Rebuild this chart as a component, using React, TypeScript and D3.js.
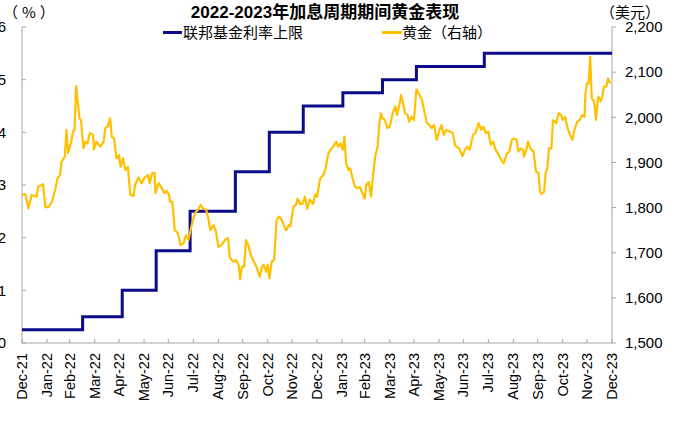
import React from "react";
import * as d3 from "d3";

const W = 700;
const H = 436;

const fedDates = [
  "2021-12-31", "2022-03-16", "2022-05-04", "2022-06-15", "2022-07-27", "2022-09-21",
  "2022-11-02", "2022-12-14", "2023-02-01", "2023-03-22", "2023-05-03", "2023-07-26", "2023-12-31",
];
const fedValues = [0.25, 0.5, 1.0, 1.75, 2.5, 3.25, 4.0, 4.5, 4.75, 5.0, 5.25, 5.5, 5.5];

const goldDates = [
  "2021-12-31", "2022-01-04", "2022-01-08", "2022-01-12", "2022-01-18", "2022-01-20", "2022-01-26", "2022-01-29",
  "2022-02-02", "2022-02-06", "2022-02-10", "2022-02-13", "2022-02-16", "2022-02-18", "2022-02-22", "2022-02-24",
  "2022-02-26", "2022-03-02", "2022-03-04", "2022-03-06", "2022-03-08", "2022-03-12", "2022-03-14", "2022-03-17",
  "2022-03-19", "2022-03-22", "2022-03-25", "2022-03-29", "2022-03-30", "2022-04-02", "2022-04-07", "2022-04-11",
  "2022-04-13", "2022-04-16", "2022-04-19", "2022-04-21", "2022-04-24", "2022-04-27", "2022-04-30", "2022-05-02",
  "2022-05-05", "2022-05-08", "2022-05-11", "2022-05-14", "2022-05-18", "2022-05-20", "2022-05-24", "2022-05-28",
  "2022-06-01", "2022-06-05", "2022-06-07", "2022-06-10", "2022-06-13", "2022-06-14", "2022-06-18", "2022-06-22",
  "2022-06-25", "2022-06-28", "2022-07-01", "2022-07-02", "2022-07-05", "2022-07-08", "2022-07-12", "2022-07-15",
  "2022-07-19", "2022-07-22", "2022-07-25", "2022-07-28", "2022-07-31", "2022-08-03", "2022-08-06", "2022-08-09",
  "2022-08-12", "2022-08-16", "2022-08-19", "2022-08-21", "2022-08-25", "2022-08-28", "2022-08-31", "2022-09-04",
  "2022-09-08", "2022-09-12", "2022-09-14", "2022-09-18", "2022-09-22", "2022-09-25", "2022-09-27", "2022-09-29",
  "2022-10-02", "2022-10-04", "2022-10-07", "2022-10-10", "2022-10-13", "2022-10-17", "2022-10-21", "2022-10-24",
  "2022-10-26", "2022-10-29", "2022-10-31", "2022-11-02", "2022-11-05", "2022-11-08", "2022-11-11", "2022-11-14",
  "2022-11-17", "2022-11-20", "2022-11-23", "2022-11-26", "2022-11-28", "2022-12-02", "2022-12-05", "2022-12-07",
  "2022-12-10", "2022-12-13", "2022-12-16", "2022-12-19", "2022-12-22", "2022-12-26", "2022-12-29", "2022-12-31",
  "2023-01-04", "2023-01-08", "2023-01-11", "2023-01-14", "2023-01-17", "2023-01-20", "2023-01-24", "2023-01-26",
  "2023-01-29", "2023-02-01", "2023-02-03", "2023-02-05", "2023-02-08", "2023-02-10", "2023-02-13", "2023-02-16",
  "2023-02-19", "2023-02-22", "2023-02-26", "2023-02-28", "2023-03-02", "2023-03-05", "2023-03-08", "2023-03-10",
  "2023-03-13", "2023-03-16", "2023-03-18", "2023-03-20", "2023-03-22", "2023-03-25", "2023-03-28", "2023-03-31",
  "2023-04-04", "2023-04-07", "2023-04-09", "2023-04-12", "2023-04-14", "2023-04-16", "2023-04-19", "2023-04-22",
  "2023-04-24", "2023-04-27", "2023-04-30", "2023-05-03", "2023-05-07", "2023-05-10", "2023-05-12", "2023-05-16",
  "2023-05-19", "2023-05-22", "2023-05-25", "2023-05-28", "2023-05-31", "2023-06-03", "2023-06-06", "2023-06-09",
  "2023-06-14", "2023-06-17", "2023-06-20", "2023-06-25", "2023-06-29", "2023-07-02", "2023-07-05", "2023-07-08",
  "2023-07-12", "2023-07-15", "2023-07-19", "2023-07-22", "2023-07-25", "2023-07-28", "2023-07-31", "2023-08-03",
  "2023-08-06", "2023-08-09", "2023-08-12", "2023-08-17", "2023-08-19", "2023-08-23", "2023-08-26", "2023-08-29",
  "2023-09-01", "2023-09-04", "2023-09-06", "2023-09-09", "2023-09-12", "2023-09-13", "2023-09-16", "2023-09-18",
  "2023-09-21", "2023-09-25", "2023-09-28", "2023-10-01", "2023-10-03", "2023-10-05", "2023-10-08", "2023-10-10",
  "2023-10-12", "2023-10-14", "2023-10-17", "2023-10-19", "2023-10-23", "2023-10-26", "2023-10-29", "2023-10-31",
  "2023-11-03", "2023-11-06", "2023-11-09", "2023-11-12", "2023-11-15", "2023-11-18", "2023-11-21", "2023-11-24",
  "2023-11-27", "2023-11-28", "2023-11-30", "2023-12-02", "2023-12-04", "2023-12-06", "2023-12-09", "2023-12-11",
  "2023-12-14", "2023-12-17", "2023-12-19", "2023-12-21", "2023-12-24", "2023-12-26", "2023-12-29",
];
const goldValues = [
  1828, 1830, 1798, 1828, 1824, 1846, 1852, 1801,
  1801, 1813, 1839, 1865, 1872, 1902, 1913, 1972,
  1921, 1946, 1968, 1972, 2069, 1998, 1994, 1931,
  1946, 1942, 1965, 1961, 1928, 1946, 1935, 1946,
  1976, 1979, 1998, 1957, 1953, 1909, 1916, 1890,
  1909, 1883, 1890, 1828, 1826, 1850, 1867, 1854,
  1867, 1872, 1854, 1876, 1877, 1832, 1854, 1843,
  1832, 1837, 1828, 1813, 1813, 1750, 1743, 1717,
  1721, 1739, 1728, 1754, 1776, 1791, 1795, 1806,
  1798, 1795, 1772, 1750, 1761, 1747, 1713, 1717,
  1728, 1732, 1691, 1680, 1684, 1673, 1641, 1669,
  1669, 1728, 1717, 1695, 1684, 1669, 1647, 1669,
  1673, 1658, 1673, 1643, 1680, 1684, 1772, 1780,
  1774, 1761, 1750, 1761, 1758, 1802, 1806, 1820,
  1808, 1808, 1824, 1797, 1818, 1808, 1830, 1824,
  1865, 1872, 1890, 1920, 1928, 1935, 1946, 1935,
  1942, 1928, 1957, 1898, 1883, 1887, 1865, 1846,
  1843, 1846, 1828, 1820, 1850, 1857, 1824, 1865,
  1913, 1935, 1983, 2009, 1998, 1994, 1976, 1979,
  2012, 2024, 2005, 2027, 2049, 2035, 2009, 2005,
  1990, 2001, 1994, 2062, 2049, 2038, 2020, 1987,
  1983, 1976, 1983, 1950, 1968, 1983, 1961, 1972,
  1968, 1965, 1937, 1931, 1914, 1928, 1935, 1928,
  1961, 1965, 1987, 1972, 1979, 1965, 1968, 1939,
  1946, 1928, 1920, 1902, 1898, 1920, 1924, 1950,
  1953, 1950, 1924, 1931, 1928, 1913, 1928, 1946,
  1931, 1924, 1879, 1877, 1835, 1830, 1835, 1879,
  1887, 1931, 1931, 1994, 1987, 2009, 2005, 1994,
  2001, 1976, 1961, 1950, 1976, 1990, 1994, 2005,
  2001, 2049, 2075, 2075, 2134, 2042, 2035, 1994,
  2046, 2035, 2046, 2068, 2068, 2086, 2075,
];

const leftTicks = [0, 1, 2, 3, 4, 5, 6];
const rightTicks = [1500, 1600, 1700, 1800, 1900, 2000, 2100, 2200];

const title = "2022-2023年加息周期期间黄金表现";
const fedLabel = "联邦基金利率上限";
const goldLabel = "黄金（右轴）";
const leftUnit = "（%）";
const rightUnit = "（美元）";

const FONT = "'Liberation Sans', Arial, 'Noto Sans CJK SC', sans-serif";
const CJK = "'Noto Sans CJK SC', sans-serif";
const BLUE = "#0c0c8a";
const GOLD = "#ffc000";
const AXIS = "#a6a6a6";

export default function App() {
  const parse = d3.timeParse("%Y-%m-%d");
  const m = { left: 22, right: 612, top: 27, bottom: 343 };
  const start = parse("2021-12-31")!;
  const end = parse("2023-12-31")!;
  const x = d3.scaleTime().domain([start, end]).range([m.left, m.right]);
  const yL = d3.scaleLinear().domain([0, 6]).range([m.bottom, m.top]);
  const yR = d3.scaleLinear().domain([1500, 2200]).range([m.bottom, m.top]);

  const fed = fedDates.map((d, i) => ({ date: parse(d)!, v: fedValues[i] }));
  const gold = goldDates.map((d, i) => ({ date: parse(d)!, v: goldValues[i] }));

  const fedLine = d3
    .line<{ date: Date; v: number }>()
    .x((d) => x(d.date))
    .y((d) => yL(d.v))
    .curve(d3.curveStepAfter)(fed)!;
  const goldLine = d3
    .line<{ date: Date; v: number }>()
    .x((d) => x(d.date))
    .y((d) => yR(d.v))(gold)!;

  // month-end ticks: Dec-21 .. Dec-23
  const firstMonth = parse("2022-01-01")!;
  const monthTicks = d3.range(25).map((i) => d3.timeDay.offset(d3.timeMonth.offset(firstMonth, i), -1));
  const fmt = d3.timeFormat("%b-%y");
  const fmtR = d3.format(",");

  return (
    <svg
      width={W}
      height={H}
      style={{ position: "absolute", left: 0, top: 0, background: "#fff" }}
      fontFamily={FONT}
    >
      <text x={325} y={18} textAnchor="middle" fontSize={17} fontWeight="bold" fill="#000">
        {title}
      </text>
      <text x={3} y={18} fontSize={15} fontFamily={CJK} letterSpacing={4} fill="#000">{leftUnit}</text>
      <text x={600} y={18} fontSize={15} fontFamily={CJK} fill="#000">{rightUnit}</text>

      {/* legend */}
      <line x1={163} x2={182} y1={32.5} y2={32.5} stroke={BLUE} strokeWidth={3} />
      <text x={183} y={38} fontSize={15} fontFamily={CJK} fill="#000">{fedLabel}</text>
      <line x1={382} x2={402} y1={32.5} y2={32.5} stroke={GOLD} strokeWidth={3} />
      <text x={402} y={38} fontSize={15} fontFamily={CJK} fill="#000">{goldLabel}</text>

      {/* axes */}
      <line x1={m.left} x2={m.left} y1={m.top} y2={m.bottom} stroke={AXIS} strokeWidth={1} />
      <line x1={m.right} x2={m.right} y1={m.top} y2={m.bottom} stroke={AXIS} strokeWidth={1} />
      <line x1={m.left} x2={m.right} y1={m.bottom} y2={m.bottom} stroke={AXIS} strokeWidth={1} />
      {leftTicks.map((t) => (
        <g key={"l" + t}>
          <line x1={m.left} x2={m.left + 4} y1={yL(t)} y2={yL(t)} stroke={AXIS} />
          <text x={6} y={yL(t)} dy="0.35em" textAnchor="end" fontSize={15} fill="#000">
            {t}
          </text>
        </g>
      ))}
      {rightTicks.map((t) => (
        <g key={"r" + t}>
          <line x1={m.right} x2={m.right + 4} y1={yR(t)} y2={yR(t)} stroke={AXIS} />
          <text x={625} y={yR(t)} dy="0.35em" textAnchor="start" fontSize={15} fill="#000">
            {fmtR(t)}
          </text>
        </g>
      ))}
      {monthTicks.map((t, i) => (
        <g key={"x" + i}>
          <line x1={x(t)} x2={x(t)} y1={m.bottom} y2={m.bottom - 4} stroke={AXIS} />
          <text
            transform={`translate(${x(t)},${353}) rotate(-90)`}
            dy="0.35em"
            textAnchor="end"
            fontSize={14.5}
            fill="#000"
          >
            {fmt(t)}
          </text>
        </g>
      ))}

      <path d={fedLine} fill="none" stroke={BLUE} strokeWidth={3} />
      <path d={goldLine} fill="none" stroke={GOLD} strokeWidth={2.2} strokeLinejoin="round" />
    </svg>
  );
}
